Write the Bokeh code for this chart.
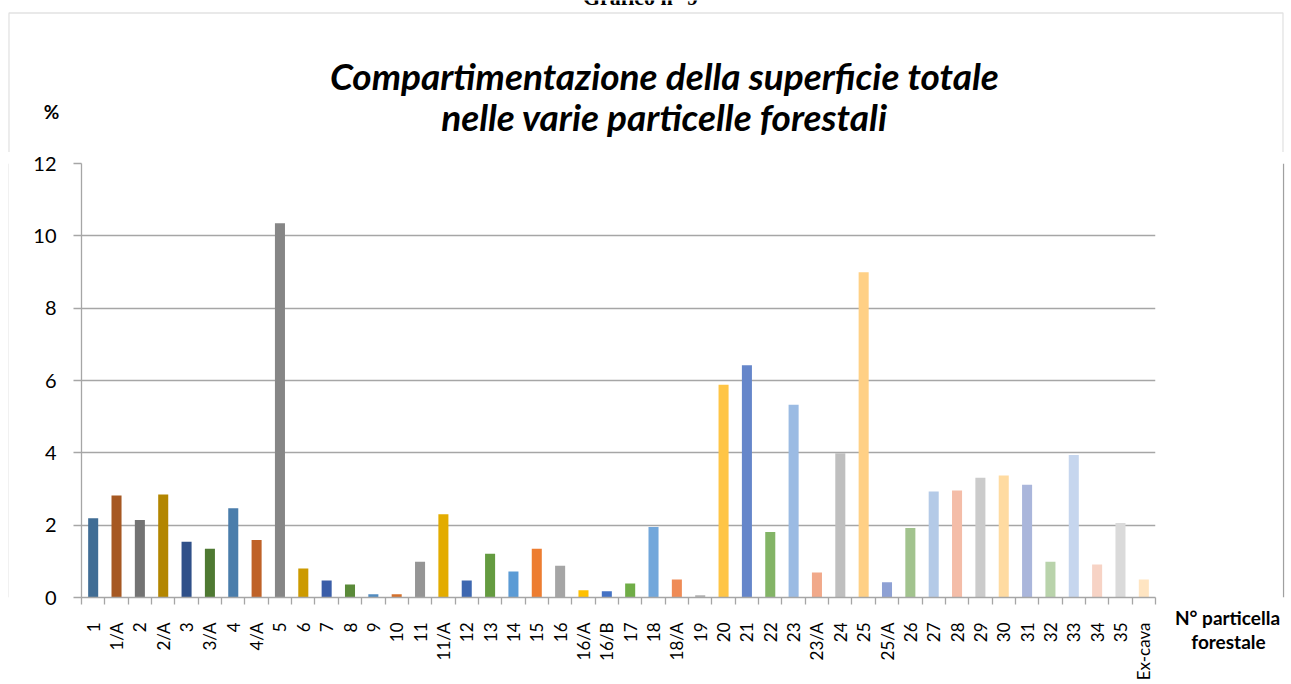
from bokeh.plotting import figure
from bokeh.models import Range1d, FixedTicker, Label, BoxAnnotation, ColumnDataSource
from bokeh.layouts import column, row
from bokeh.embed import file_html
from bokeh.resources import INLINE
import math

# ---- data ----
categories = ["1", "1/A", "2", "2/A", "3", "3/A", "4", "4/A", "5", "6", "7", "8", "9", "10",
              "11", "11/A", "12", "13", "14", "15", "16", "16/A", "16/B", "17", "18", "18/A",
              "19", "20", "21", "22", "23", "23/A", "24", "25", "25/A", "26", "27", "28", "29",
              "30", "31", "32", "33", "34", "35", "Ex-cava"]
values = [2.19, 2.82, 2.14, 2.85, 1.54, 1.35, 2.47, 1.59, 10.35, 0.80, 0.47, 0.36, 0.09, 0.09,
          0.99, 2.30, 0.47, 1.21, 0.72, 1.35, 0.88, 0.20, 0.17, 0.39, 1.95, 0.50,
          0.06, 5.88, 6.42, 1.81, 5.33, 0.69, 3.99, 8.99, 0.42, 1.92, 2.93, 2.96, 3.31,
          3.37, 3.12, 0.99, 3.94, 0.91, 2.06, 0.50]
y_ticks = [0, 2, 4, 6, 8, 10, 12]

# ---- styles ----
palette = [
    "#406D95", "#A65822", "#737373", "#B38600", "#2F5089", "#4E7932",
    "#4A7DAB", "#BF6228", "#868686", "#CC9A00", "#3A5DA8", "#5A8A39",
    "#528CC0", "#D5712C", "#959595", "#E3AC00", "#3D67B0", "#649B40",
    "#5B9BD5", "#ED7D31", "#A5A5A5", "#FFC000", "#4472C4", "#70AD47",
    "#72A7DB", "#EF8B56", "#B2B2B2", "#FFC545", "#6586CA", "#83B466",
    "#9BBBE3", "#F1A98A", "#BFBFBF", "#FFD085", "#8EA1D4", "#A2C38E",
    "#B4CAE7", "#F4BDA8", "#CBCBCB", "#FFDBA1", "#AAB6DB", "#B9D3AB",
    "#C6D6EE", "#F7D3C5", "#DADADA", "#FFE5C2",
]
grid_col = "#A6A6A6"
border_col = "#A0A0A0"
font = "Lato"

TOTAL_W = 1290
TOP_H = 152
ROW_H = 531
L_W = 9
M_W = 1152
R_W = 121
E_W = TOTAL_W - L_W - M_W - R_W
BX_L, BX_R, BX_T = 8.5, 1282.5, 12.5


def blank(w, h, xr, yr):
    f = figure(width=w, height=h, output_backend="svg", toolbar_location=None,
               x_range=xr, y_range=yr, x_axis_type=None, y_axis_type=None,
               min_border=0, min_border_left=0, min_border_right=0,
               min_border_top=0, min_border_bottom=0)
    f.outline_line_color = None
    f.background_fill_color = "white"
    f.border_fill_color = "white"
    return f


# ---- top band: headings (pixel coordinates) ----
ft = blank(TOTAL_W, TOP_H, Range1d(0, TOTAL_W), Range1d(TOP_H, 0))
ft.add_layout(BoxAnnotation(left=BX_L, right=BX_R, top=BX_T, bottom=2000,
                            fill_alpha=0, line_color=border_col, line_width=1.3))
ft.add_layout(Label(x=640, y=9, text="Grafico n° 9", text_align="center",
                    text_baseline="bottom", text_font="Liberation Serif",
                    text_font_style="bold", text_font_size="22px", text_color="black"))
ft.add_layout(Label(x=664, y=75, text="Compartimentazione della superficie totale",
                    text_align="center", text_baseline="middle", text_font=font,
                    text_font_style="bold italic", text_font_size="37px", text_color="black"))
ft.add_layout(Label(x=664, y=116, text="nelle varie particelle forestali",
                    text_align="center", text_baseline="middle", text_font=font,
                    text_font_style="bold italic", text_font_size="37px", text_color="black"))
ft.add_layout(Label(x=51, y=111, text="%", text_align="center",
                    text_baseline="middle", text_font=font, text_font_style="bold",
                    text_font_size="19px", text_color="black"))

# ---- left strip: chart border ----
fl = blank(L_W, ROW_H, Range1d(0, L_W), Range1d(0, 1))
fl.vspan(x=[BX_L], line_color=border_col, line_width=1.3)

# ---- main chart ----
n = len(categories)
xs = [i + 0.5 for i in range(n)]
src = ColumnDataSource(dict(x=xs, top=values, color=palette[:n]))

fm = figure(width=M_W, height=ROW_H, output_backend="svg", toolbar_location=None,
            x_range=Range1d(0, n), y_range=Range1d(0, 12),
            min_border_left=81 - L_W, min_border_right=L_W + M_W - 1155,
            min_border_top=163 - TOP_H, min_border_bottom=TOP_H + ROW_H - 602)
fm.outline_line_color = None
fm.background_fill_color = "white"
fm.border_fill_color = "white"

fm.vbar(x="x", top="top", width=0.43, fill_color="color", line_color=None, source=src)

ya = fm.yaxis[0]
ya.ticker = FixedTicker(ticks=y_ticks)
ya.axis_line_color = grid_col
ya.axis_line_width = 1.3
ya.major_tick_line_color = grid_col
ya.major_tick_line_width = 1.3
ya.major_tick_out = 8
ya.major_tick_in = 0
ya.minor_tick_line_color = None
ya.major_label_text_font = font
ya.major_label_text_font_size = "20px"
ya.major_label_text_color = "#000000"
ya.major_label_standoff = 17

xa = fm.xaxis[0]
xa.ticker = FixedTicker(ticks=xs, minor_ticks=list(range(n + 1)))
xa.major_label_overrides = {x: c for x, c in zip(xs, categories)}
xa.major_label_orientation = math.pi / 2
xa.axis_line_color = grid_col
xa.axis_line_width = 1.3
xa.major_tick_line_color = None
xa.major_tick_out = 0
xa.major_tick_in = 0
xa.minor_tick_line_color = grid_col
xa.minor_tick_line_width = 1.3
xa.minor_tick_out = 7
xa.minor_tick_in = 0
xa.major_label_text_font = font
xa.major_label_text_font_size = "17px"
xa.major_label_text_color = "#000000"
xa.major_label_standoff = 18

fm.xgrid.grid_line_color = None
fm.ygrid.ticker = FixedTicker(ticks=y_ticks)
fm.ygrid.grid_line_color = grid_col
fm.ygrid.grid_line_width = 1.3

# ---- right strip: axis title ----
x0 = L_W + M_W
fr = blank(R_W, ROW_H, Range1d(x0, x0 + R_W), Range1d(TOP_H + ROW_H, TOP_H))
fr.add_layout(Label(x=1227, y=617, text="N° particella", text_align="center",
                    text_baseline="middle", text_font=font, text_font_style="bold",
                    text_font_size="19px", text_color="black"))
fr.add_layout(Label(x=1228, y=641, text="forestale", text_align="center",
                    text_baseline="middle", text_font=font, text_font_style="bold",
                    text_font_size="19px", text_color="black"))

# ---- far right strip: chart border ----
x1 = x0 + R_W
fe = blank(E_W, ROW_H, Range1d(x1, TOTAL_W), Range1d(0, 1))
fe.vspan(x=[BX_R], line_color=border_col, line_width=1.3)

layout = column(ft, row(fl, fm, column(fr), fe))
open("out.html", "w").write(file_html(layout, INLINE))
